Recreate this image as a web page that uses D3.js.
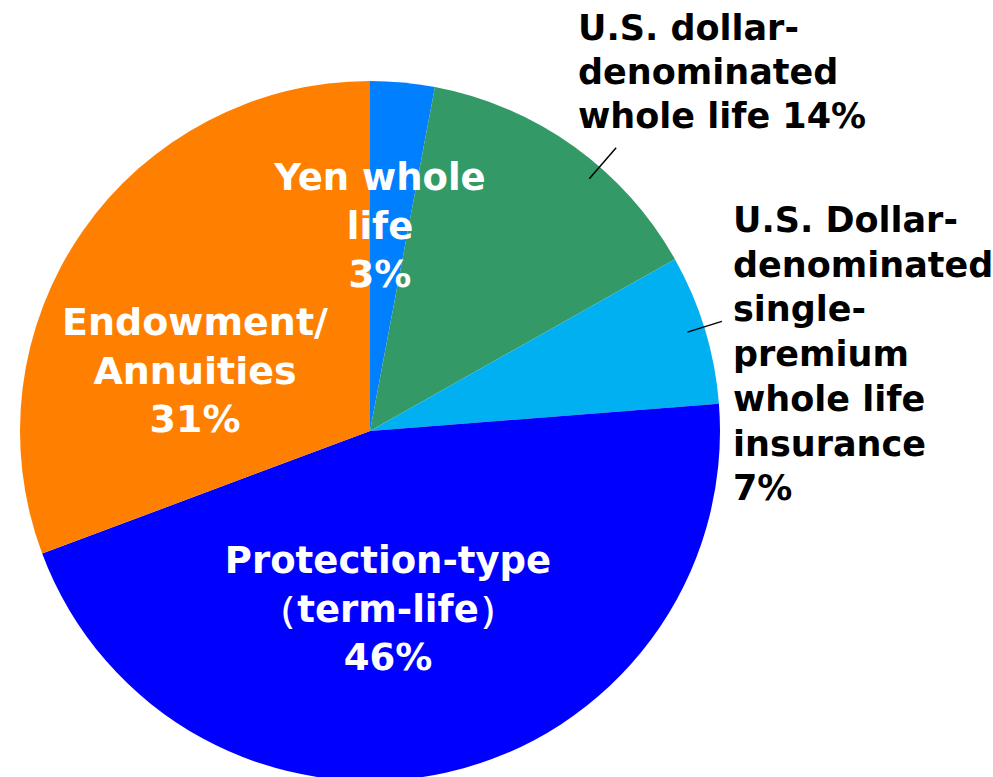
<!DOCTYPE html>
<html>
<head>
<meta charset="utf-8">
<script src="https://cdn.jsdelivr.net/npm/d3@7"></script>
<style>
  html, body { margin: 0; padding: 0; background: #fff; }
  svg text { font-family: "DejaVu Sans", Verdana, sans-serif; font-weight: bold; }
</style>
</head>
<body>
<div id="chart"></div>
<script>
// categories, clockwise from 12 o'clock
var categories = ['Yen whole life', 'U.S. dollar-denominated whole life',
  'U.S. Dollar-denominated single-premium whole life insurance',
  'Protection-type (term-life)', 'Endowment/Annuities'];
var shares = [3, 14, 7, 46, 31];
var colors = ['#0080ff', '#339966', '#00b0f0', '#0000ff', '#ff8000'];
var labelLines = [
  ['Yen whole', 'life', '3%'],
  ['U.S. dollar-', 'denominated', 'whole life 14%'],
  ['U.S. Dollar-', 'denominated', 'single-', 'premium', 'whole life', 'insurance', '7%'],
  ['Protection-type', '\uff08term-life\uff09', '46%'],
  ['Endowment/', 'Annuities', '31%']
];

var width = 993, height = 777;
var cx = 370, cy = 431, radius = 350;

// label layout: inside labels centered (x relative to pie centre), outside ones left aligned
var labelLayout = [
  { x: 10,   y: 190, anchor: 'middle', size: 37, lh: 48.5, fill: '#fff' },
  { x: 578,  y: 40,  anchor: 'start',  size: 35, lh: 44,   fill: '#000', abs: true },
  { x: 733,  y: 232, anchor: 'start',  size: 35, lh: 44.7, fill: '#000', abs: true },
  { x: 18,   y: 573, anchor: 'middle', size: 37, lh: 48.5, fill: '#fff' },
  { x: -175, y: 335, anchor: 'middle', size: 38, lh: 48.5, fill: '#fff' }
];
// leader lines (angle in degrees from top, radii as fraction of radius)
var leaders = [null, { a: 41, r0: 0.955, r1: 1.072 }, { a: 72.7, r0: 0.95, r1: 1.053 }, null, null];

var svg = d3.select('#chart').append('svg')
  .attr('width', width)
  .attr('height', height);

var g = svg.append('g').attr('transform', 'translate(' + cx + ',' + cy + ')');

var pie = d3.pie().sort(null).value(function(d) { return d; });
var arc = d3.arc().innerRadius(0).outerRadius(radius);

var arcs = pie(shares);

g.selectAll('path.slice')
  .data(arcs)
  .enter().append('path')
  .attr('class', 'slice')
  .attr('d', arc)
  .attr('fill', function(d, i) { return colors[i]; });

// leader lines
arcs.forEach(function(d, i) {
  var l = leaders[i];
  if (!l) return;
  var a = l.a * Math.PI / 180;
  g.append('line')
    .attr('x1', Math.sin(a) * radius * l.r0)
    .attr('y1', -Math.cos(a) * radius * l.r0)
    .attr('x2', Math.sin(a) * radius * l.r1)
    .attr('y2', -Math.cos(a) * radius * l.r1)
    .attr('stroke', '#000')
    .attr('stroke-width', 1.5);
});

// labels
labelLines.forEach(function(lines, i) {
  var L = labelLayout[i];
  var x = L.abs ? L.x : cx + L.x;
  var t = svg.append('text')
    .attr('text-anchor', L.anchor)
    .attr('fill', L.fill)
    .style('font-size', L.size + 'px');
  lines.forEach(function(s, j) {
    t.append('tspan')
      .attr('x', x)
      .attr('y', L.y + j * L.lh)
      .text(s);
  });
});
</script>
</body>
</html>
